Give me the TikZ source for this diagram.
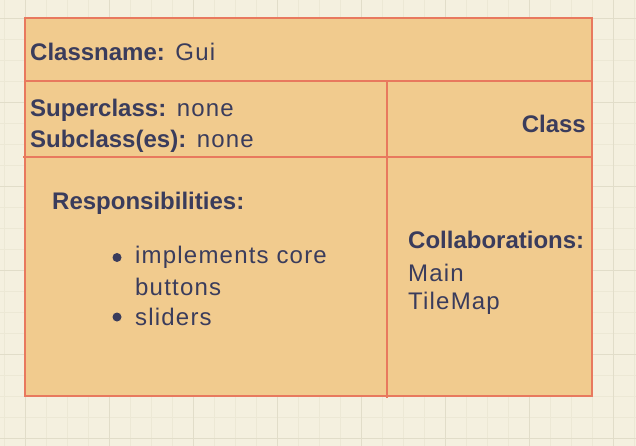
\documentclass[tikz,border=0pt]{standalone}
\usepackage{fontspec}
\setmainfont{Liberation Sans}[UprightFeatures={LetterSpace=5}]
\definecolor{paper}{HTML}{F4F0DF}
\definecolor{gridthin}{HTML}{ECE8D5}
\definecolor{gridthick}{HTML}{E1DDC9}
\definecolor{cardfill}{HTML}{F1CB8E}
\definecolor{cardline}{HTML}{E8795E}
\definecolor{ink}{HTML}{3A3C5C}
\tikzset{
	cardtext/.style={anchor=base west, inner sep=0pt, text=ink, font=\fontsize{24}{28}\selectfont},
	cardrule/.style={draw=cardline, line width=2pt},
	itemdot/.style={circle, fill=ink, inner sep=0pt, minimum size=9pt},
}
\begin{document}
\begin{tikzpicture}[x=1pt, y=-1pt]
	\useasboundingbox (0,0) rectangle (636,446);
	\fill[paper] (0,0) rectangle (636,446);
	\foreach \x in {4.3,25.3,...,636}
		\draw[gridthin, line width=1pt] (\x,0) -- (\x,446);
	\foreach \y in {18.3,39.3,...,446}
		\draw[gridthin, line width=1pt] (0,\y) -- (636,\y);
	\foreach \x in {25.3,109.3,...,636}
		\draw[gridthick, line width=1pt] (\x,0) -- (\x,446);
	\foreach \y in {18.3,102.3,...,446}
		\draw[gridthick, line width=1pt] (0,\y) -- (636,\y);
	\coordinate (NW) at (25,18);
	\coordinate (SE) at (592,396);
	\coordinate (r1w) at (25,81);
	\coordinate (r1e) at (592,81);
	\coordinate (r2w) at (23,157);
	\coordinate (r2e) at (592,157);
	\coordinate (vt) at (387,81);
	\coordinate (vb) at (387,398);
	\draw[cardrule, fill=cardfill] (NW) rectangle (SE);
	\draw[cardrule] (r1w) -- (r1e);
	\draw[cardrule] (r2w) -- (r2e);
	\draw[cardrule] (vt) -- (vb);
	\node[cardtext] (cname) at (30,61) {\textbf{Classname:} Gui};
	\node[cardtext] (super) at (30,117) {\textbf{Superclass:} none};
	\node[cardtext] (sub) at (30,148) {\textbf{Subclass(es):} none};
	\node[cardtext, anchor=base east] (cls) at (586,133) {\textbf{Class}};
	\node[cardtext] (resp) at (52,210) {\textbf{Responsibilities:}};
	\node[itemdot] (dot1) at (117,257.5) {};
	\node[cardtext] (item1) at (135,263) {implements core};
	\node[cardtext] (item1b) at (135,295) {buttons};
	\node[itemdot] (dot2) at (117,317) {};
	\node[cardtext] (item2) at (135,325) {sliders};
	\node[cardtext] (collab) at (408,248) {\textbf{Collaborations:}};
	\node[cardtext] (main) at (408,281) {Main};
	\node[cardtext] (tilemap) at (408,309) {TileMap};
\end{tikzpicture}
\end{document}
